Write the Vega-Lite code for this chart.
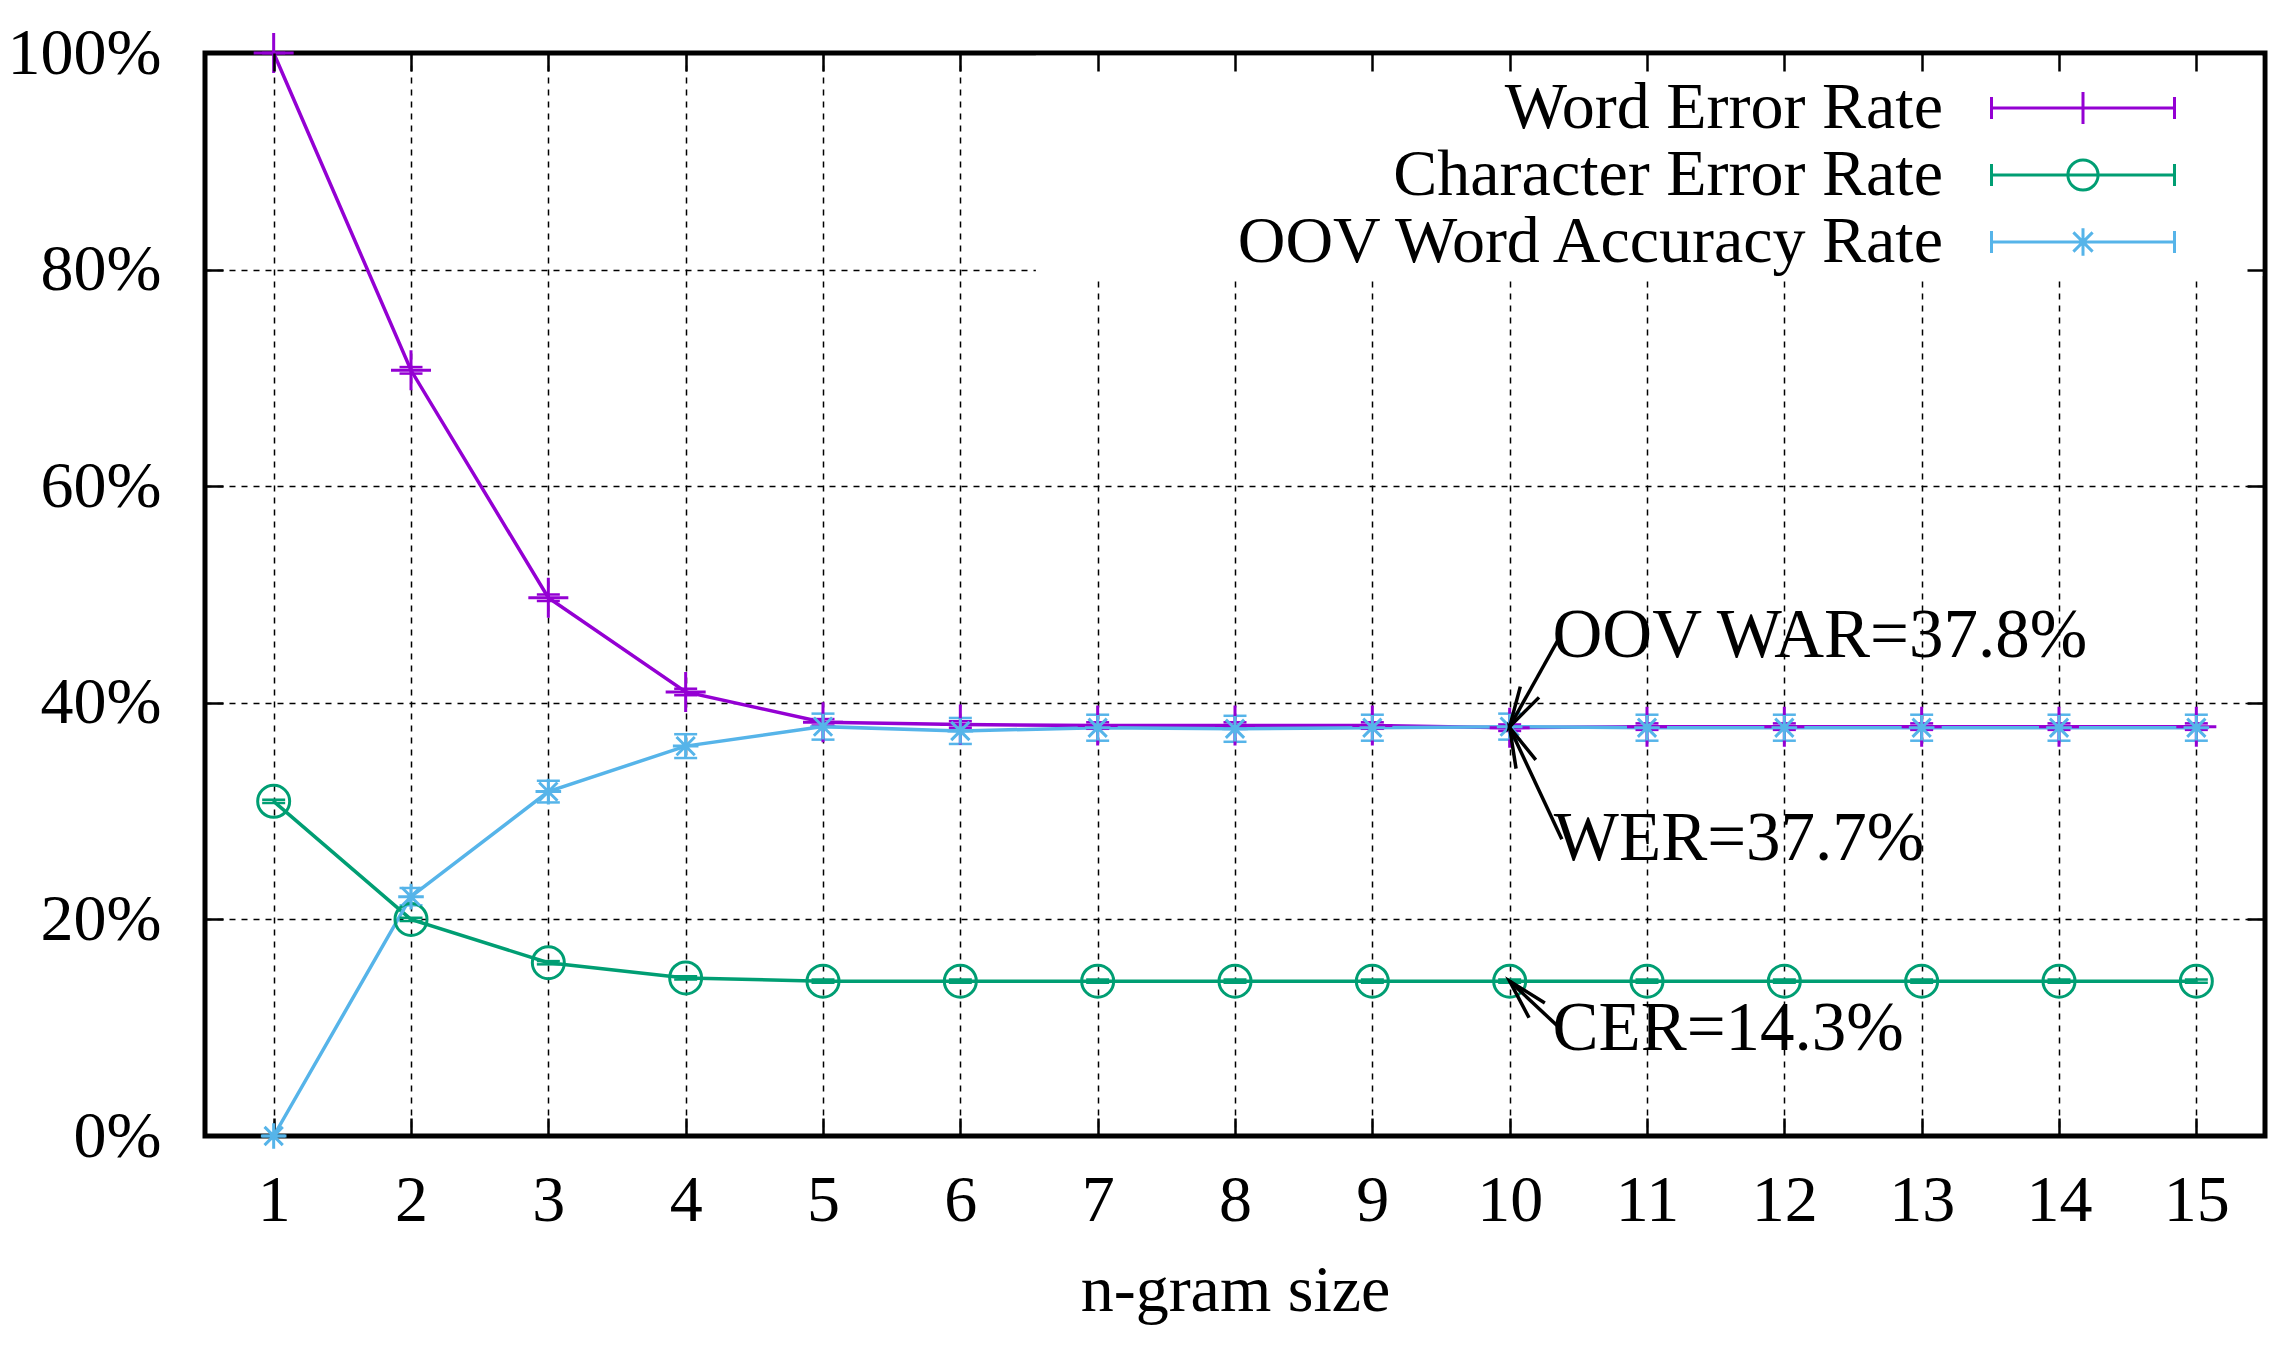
{
  "$schema": "https://vega.github.io/schema/vega-lite/v6.json",
  "width": 2060,
  "height": 1083,
  "autosize": {"type": "none"},
  "padding": {"left": 205, "top": 53, "right": 22, "bottom": 217},
  "background": "white",
  "config": {
    "font": "Liberation Serif",
    "view": {"stroke": "black", "strokeWidth": 5},
    "axis": {
      "labelFont": "Liberation Serif",
      "labelFontSize": 66,
      "labelColor": "black",
      "titleFont": "Liberation Serif",
      "titleFontSize": 66,
      "titleFontWeight": "normal",
      "titleColor": "black",
      "domain": false,
      "tickColor": "black",
      "tickWidth": 2.5,
      "tickSize": -18,
      "gridColor": "black",
      "gridDash": [6, 6],
      "gridWidth": 1.5,
      "gridOpacity": 1
    }
  },
  "datasets": {
    "rates": [
      {"n": 1, "metric": "Word Error Rate", "v": 100, "lo": 100, "hi": 100},
      {"n": 2, "metric": "Word Error Rate", "v": 70.7, "lo": 70.4, "hi": 71.0},
      {"n": 3, "metric": "Word Error Rate", "v": 49.7, "lo": 49.4, "hi": 50.0},
      {"n": 4, "metric": "Word Error Rate", "v": 41.0, "lo": 40.7, "hi": 41.3},
      {"n": 5, "metric": "Word Error Rate", "v": 38.2, "lo": 37.9, "hi": 38.5},
      {"n": 6, "metric": "Word Error Rate", "v": 38.0, "lo": 37.7, "hi": 38.3},
      {"n": 7, "metric": "Word Error Rate", "v": 37.9, "lo": 37.6, "hi": 38.2},
      {"n": 8, "metric": "Word Error Rate", "v": 37.9, "lo": 37.6, "hi": 38.2},
      {"n": 9, "metric": "Word Error Rate", "v": 37.9, "lo": 37.6, "hi": 38.2},
      {"n": 10, "metric": "Word Error Rate", "v": 37.7, "lo": 37.4, "hi": 38.0},
      {"n": 11, "metric": "Word Error Rate", "v": 37.8, "lo": 37.5, "hi": 38.1},
      {"n": 12, "metric": "Word Error Rate", "v": 37.8, "lo": 37.5, "hi": 38.1},
      {"n": 13, "metric": "Word Error Rate", "v": 37.8, "lo": 37.5, "hi": 38.1},
      {"n": 14, "metric": "Word Error Rate", "v": 37.8, "lo": 37.5, "hi": 38.1},
      {"n": 15, "metric": "Word Error Rate", "v": 37.8, "lo": 37.5, "hi": 38.1},
      {"n": 1, "metric": "Character Error Rate", "v": 30.9, "lo": 30.75, "hi": 31.05},
      {"n": 2, "metric": "Character Error Rate", "v": 20.0, "lo": 19.85, "hi": 20.15},
      {"n": 3, "metric": "Character Error Rate", "v": 16.0, "lo": 15.85, "hi": 16.15},
      {"n": 4, "metric": "Character Error Rate", "v": 14.6, "lo": 14.45, "hi": 14.75},
      {"n": 5, "metric": "Character Error Rate", "v": 14.3, "lo": 14.15, "hi": 14.45},
      {"n": 6, "metric": "Character Error Rate", "v": 14.3, "lo": 14.15, "hi": 14.45},
      {"n": 7, "metric": "Character Error Rate", "v": 14.3, "lo": 14.15, "hi": 14.45},
      {"n": 8, "metric": "Character Error Rate", "v": 14.3, "lo": 14.15, "hi": 14.45},
      {"n": 9, "metric": "Character Error Rate", "v": 14.3, "lo": 14.15, "hi": 14.45},
      {"n": 10, "metric": "Character Error Rate", "v": 14.3, "lo": 14.15, "hi": 14.45},
      {"n": 11, "metric": "Character Error Rate", "v": 14.3, "lo": 14.15, "hi": 14.45},
      {"n": 12, "metric": "Character Error Rate", "v": 14.3, "lo": 14.15, "hi": 14.45},
      {"n": 13, "metric": "Character Error Rate", "v": 14.3, "lo": 14.15, "hi": 14.45},
      {"n": 14, "metric": "Character Error Rate", "v": 14.3, "lo": 14.15, "hi": 14.45},
      {"n": 15, "metric": "Character Error Rate", "v": 14.3, "lo": 14.15, "hi": 14.45},
      {"n": 1, "metric": "OOV Word Accuracy Rate", "v": 0, "lo": 0, "hi": 0},
      {"n": 2, "metric": "OOV Word Accuracy Rate", "v": 22.1, "lo": 21.3, "hi": 22.9},
      {"n": 3, "metric": "OOV Word Accuracy Rate", "v": 31.8, "lo": 30.8, "hi": 32.8},
      {"n": 4, "metric": "OOV Word Accuracy Rate", "v": 36.0, "lo": 34.9, "hi": 37.1},
      {"n": 5, "metric": "OOV Word Accuracy Rate", "v": 37.8, "lo": 36.6, "hi": 39.0},
      {"n": 6, "metric": "OOV Word Accuracy Rate", "v": 37.4, "lo": 36.2, "hi": 38.6},
      {"n": 7, "metric": "OOV Word Accuracy Rate", "v": 37.7, "lo": 36.5, "hi": 38.9},
      {"n": 8, "metric": "OOV Word Accuracy Rate", "v": 37.6, "lo": 36.4, "hi": 38.8},
      {"n": 9, "metric": "OOV Word Accuracy Rate", "v": 37.7, "lo": 36.5, "hi": 38.9},
      {"n": 10, "metric": "OOV Word Accuracy Rate", "v": 37.8, "lo": 36.6, "hi": 39.0},
      {"n": 11, "metric": "OOV Word Accuracy Rate", "v": 37.7, "lo": 36.5, "hi": 38.9},
      {"n": 12, "metric": "OOV Word Accuracy Rate", "v": 37.7, "lo": 36.5, "hi": 38.9},
      {"n": 13, "metric": "OOV Word Accuracy Rate", "v": 37.7, "lo": 36.5, "hi": 38.9},
      {"n": 14, "metric": "OOV Word Accuracy Rate", "v": 37.7, "lo": 36.5, "hi": 38.9},
      {"n": 15, "metric": "OOV Word Accuracy Rate", "v": 37.7, "lo": 36.5, "hi": 38.9}
    ],
    "notes": [
      {"label": "OOV WAR=37.8%", "x": 10.37, "y": 46.2, "tx": 10, "ty": 37.8},
      {"label": "WER=37.7%", "x": 10.38, "y": 27.4, "tx": 10, "ty": 37.7},
      {"label": "CER=14.3%", "x": 10.37, "y": 9.9, "tx": 10, "ty": 14.3}
    ],
    "keybox": [
      {"x": 6.55, "x2": 15.48, "y": 79.4, "y2": 99.75}
    ]
  },
  "layer": [
    {
      "layer": [
        {
          "data": {"name": "keybox"},
          "mark": {"type": "rect"},
          "encoding": {
            "x": {"field": "x", "type": "quantitative"},
            "x2": {"field": "x2"},
            "y": {"field": "y", "type": "quantitative"},
            "y2": {"field": "y2"},
            "color": {"value": "white"}
          }
        },
        {
          "data": {"name": "rates"},
          "mark": {"type": "line", "strokeWidth": 3.5},
          "encoding": {
            "x": {"field": "n", "type": "quantitative"},
            "y": {"field": "v", "type": "quantitative"}
          }
        },
        {
          "data": {"name": "rates"},
          "mark": {"type": "rule", "strokeWidth": 2.5},
          "encoding": {
            "x": {"field": "n", "type": "quantitative"},
            "y": {"field": "lo", "type": "quantitative"},
            "y2": {"field": "hi"}
          }
        },
        {
          "data": {"name": "rates"},
          "mark": {"type": "point", "shape": "stroke", "size": 529, "filled": false, "strokeWidth": 2.5, "opacity": 1},
          "encoding": {
            "x": {"field": "n", "type": "quantitative"},
            "y": {"field": "lo", "type": "quantitative"}
          }
        },
        {
          "data": {"name": "rates"},
          "mark": {"type": "point", "shape": "stroke", "size": 529, "filled": false, "strokeWidth": 2.5, "opacity": 1},
          "encoding": {
            "x": {"field": "n", "type": "quantitative"},
            "y": {"field": "hi", "type": "quantitative"}
          }
        },
        {
          "data": {"name": "rates"},
          "transform": [{"filter": "datum.metric === 'Word Error Rate'"}],
          "mark": {"type": "point", "shape": "M-1.25,0L1.25,0M0,-1.25L0,1.25", "filled": false, "size": 1024, "strokeWidth": 3, "opacity": 1},
          "encoding": {
            "x": {"field": "n", "type": "quantitative"},
            "y": {"field": "v", "type": "quantitative"}
          }
        },
        {
          "data": {"name": "rates"},
          "transform": [{"filter": "datum.metric === 'Character Error Rate'"}],
          "mark": {"type": "point", "shape": "M1,0A1,1,0,1,1,-1,0A1,1,0,1,1,1,0Z", "filled": false, "size": 1024, "strokeWidth": 3, "opacity": 1},
          "encoding": {
            "x": {"field": "n", "type": "quantitative"},
            "y": {"field": "v", "type": "quantitative"}
          }
        },
        {
          "data": {"name": "rates"},
          "transform": [{"filter": "datum.metric === 'OOV Word Accuracy Rate'"}],
          "mark": {"type": "point", "shape": "M-0.8,0L0.8,0M0,-0.8L0,0.8M-0.57,-0.57L0.57,0.57M-0.57,0.57L0.57,-0.57", "filled": false, "size": 1024, "strokeWidth": 3, "opacity": 1},
          "encoding": {
            "x": {"field": "n", "type": "quantitative"},
            "y": {"field": "v", "type": "quantitative"}
          }
        },
        {
          "data": {"name": "rates"},
          "transform": [{"filter": "datum.n > 99"}],
          "mark": {"type": "point", "filled": false, "strokeWidth": 3, "opacity": 1},
          "encoding": {
            "x": {"field": "n", "type": "quantitative"},
            "y": {"field": "v", "type": "quantitative"},
            "shape": {
              "field": "metric",
              "type": "nominal",
              "scale": {
                "domain": ["Word Error Rate", "Character Error Rate", "OOV Word Accuracy Rate"],
                "range": [
                  "M-4,0L4,0M-4,-0.48L-4,0.48M4,-0.48L4,0.48M0,-0.7L0,0.7",
                  "M-4,0L4,0M-4,-0.48L-4,0.48M4,-0.48L4,0.48M0.66,0A0.66,0.66,0,1,1,-0.66,0A0.66,0.66,0,1,1,0.66,0Z",
                  "M-4,0L4,0M-4,-0.48L-4,0.48M4,-0.48L4,0.48M0,-0.6L0,0.6M-0.42,-0.42L0.42,0.42M-0.42,0.42L0.42,-0.42"
                ]
              },
              "legend": null
            }
          }
        },
        {
          "data": {"name": "notes"},
          "mark": {"type": "rule", "strokeWidth": 3.5},
          "encoding": {
            "x": {"field": "x", "type": "quantitative"},
            "y": {"field": "y", "type": "quantitative"},
            "x2": {"field": "tx"},
            "y2": {"field": "ty"},
            "color": {"value": "black"}
          }
        },
        {
          "data": {"name": "notes"},
          "mark": {
            "type": "point",
            "shape": "M-0.27,1L0,0L0.27,1",
            "size": 6400,
            "filled": false,
            "strokeWidth": 3.5,
            "opacity": 1,
            "angle": {"expr": "datum.label === 'OOV WAR=37.8%' ? 210 : datum.label === 'WER=37.7%' ? 336 : 317"}
          },
          "encoding": {
            "x": {"field": "tx", "type": "quantitative"},
            "y": {"field": "ty", "type": "quantitative"},
            "color": {"value": "black"}
          }
        },
        {
          "data": {"name": "notes"},
          "mark": {"type": "text", "align": "left", "baseline": "middle", "dx": -8, "fontSize": 69, "font": "Liberation Serif"},
          "encoding": {
            "x": {"field": "x", "type": "quantitative"},
            "y": {"field": "y", "type": "quantitative"},
            "text": {"field": "label"},
            "color": {"value": "black"}
          }
        }
      ],
      "encoding": {
        "x": {
          "field": "n",
          "type": "quantitative",
          "scale": {"domain": [0.5, 15.5], "nice": false, "zero": false},
          "axis": {
            "values": [1, 2, 3, 4, 5, 6, 7, 8, 9, 10, 11, 12, 13, 14, 15],
            "title": "n-gram size",
            "titleY": 174,
            "titleBaseline": "alphabetic",
            "labelPadding": 50,
            "grid": true,
            "zindex": 0
          }
        },
        "y": {
          "field": "v",
          "type": "quantitative",
          "scale": {"domain": [0, 100], "nice": false},
          "axis": {
            "values": [0, 20, 40, 60, 80, 100],
            "title": null,
            "labelExpr": "datum.value + '%'",
            "labelPadding": 62,
            "grid": true,
            "zindex": 0
          }
        },
        "color": {
          "field": "metric",
          "type": "nominal",
          "scale": {
            "domain": ["Word Error Rate", "Character Error Rate", "OOV Word Accuracy Rate"],
            "range": ["#9400D3", "#009E73", "#56B4E9"]
          },
          "legend": {
            "title": null,
            "orient": "none",
            "legendX": 1845,
            "legendY": 22,
            "padding": 0,
            "rowPadding": 1,
            "labelAlign": "right",
            "labelOffset": -173,
            "labelLimit": 2000,
            "labelFont": "Liberation Serif",
            "labelFontSize": 66,
            "labelColor": "black",
            "symbolSize": 2093,
            "symbolStrokeWidth": 3
          }
        }
      }
    },
    {
      "data": {"name": "rates"},
      "mark": {"type": "point", "opacity": 0},
      "encoding": {
        "x": {
          "field": "n",
          "type": "quantitative",
          "scale": {"domain": [0.5, 15.5], "nice": false, "zero": false},
          "axis": {"orient": "top", "values": [1, 2, 3, 4, 5, 6, 7, 8, 9, 10, 11, 12, 13, 14, 15], "labels": false, "title": null, "grid": false, "zindex": 1}
        },
        "y": {
          "field": "v",
          "type": "quantitative",
          "scale": {"domain": [0, 100], "nice": false},
          "axis": {"orient": "right", "values": [0, 20, 40, 60, 80, 100], "labels": false, "title": null, "grid": false, "zindex": 1}
        }
      }
    }
  ],
  "resolve": {"axis": {"x": "independent", "y": "independent"}}
}
